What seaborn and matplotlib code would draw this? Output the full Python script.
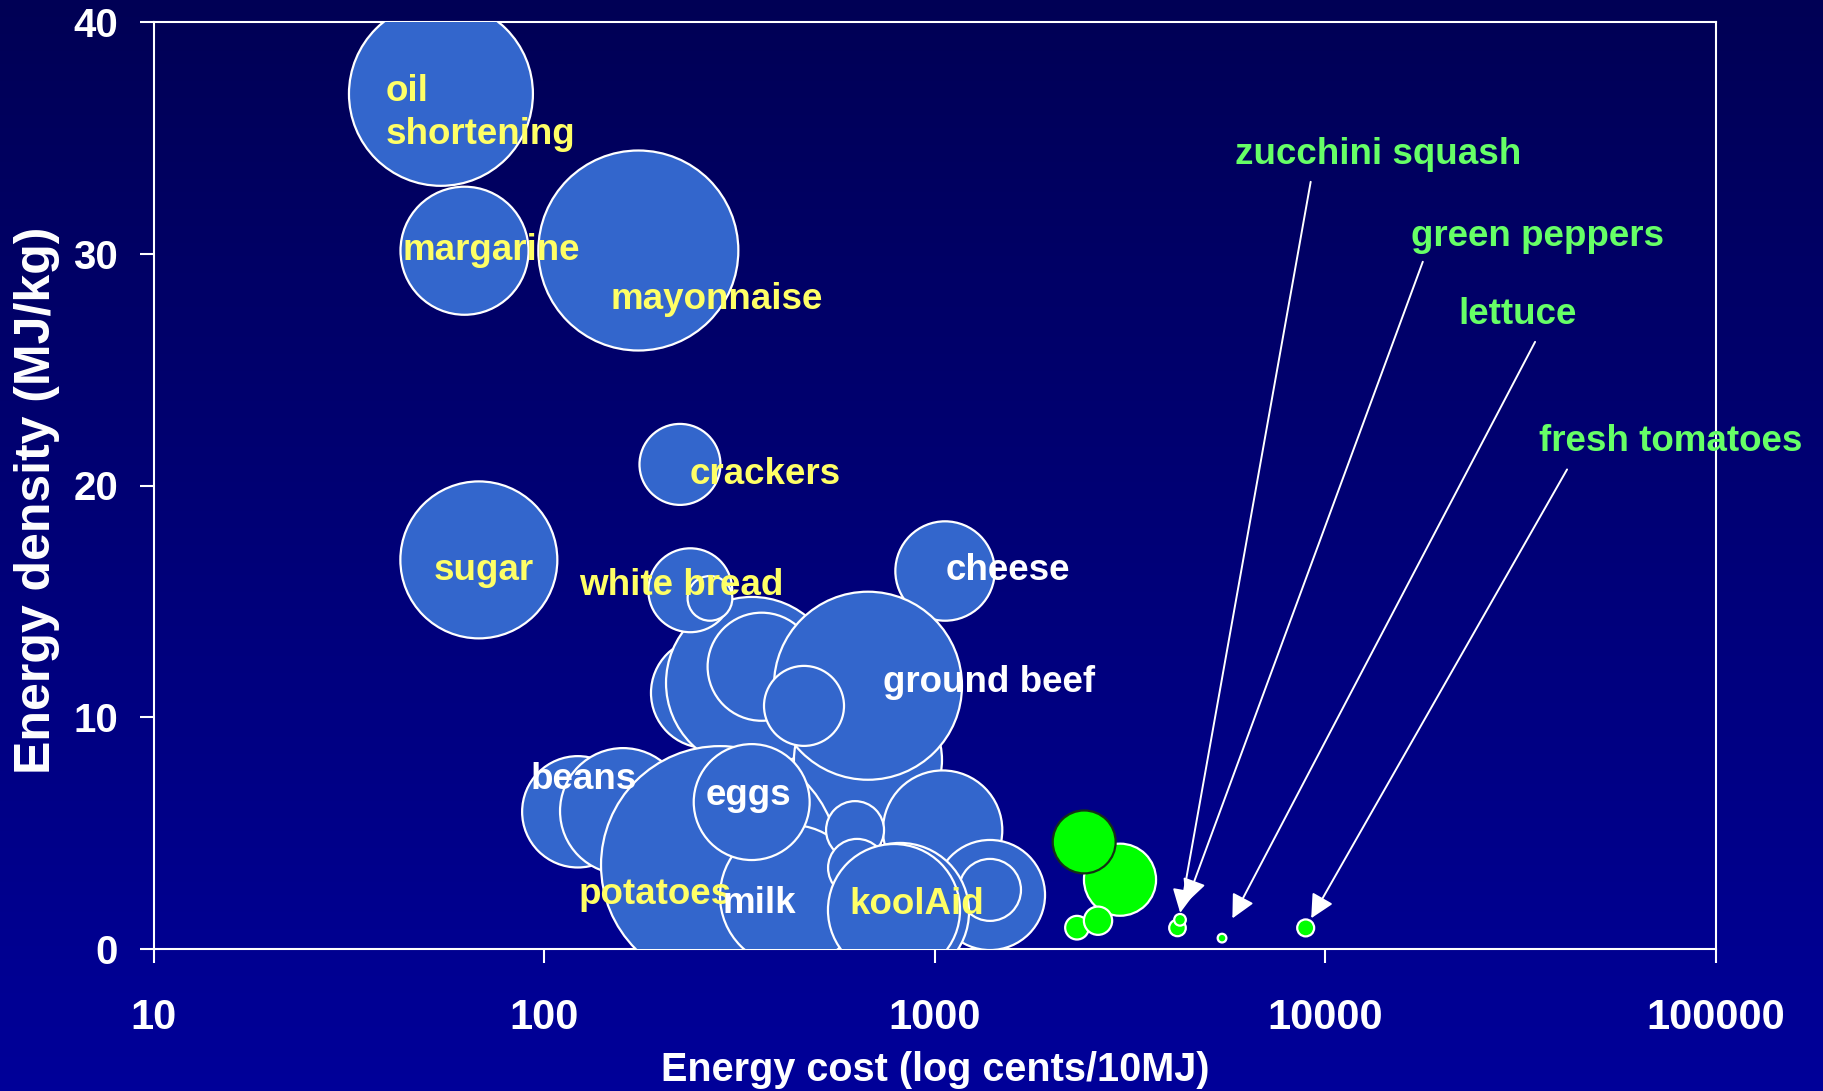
import numpy as np
import pandas as pd
import matplotlib
matplotlib.use("Agg")
import matplotlib.pyplot as plt
import seaborn as sns
from matplotlib.colors import LinearSegmentedColormap
from matplotlib.ticker import NullLocator

# --- data ---
foods = ["oil shortening", "margarine", "mayonnaise", "crackers", "sugar", "cheese",
         "beans", "beans 2", "food a", "food b", "food c", "food d", "food e", "food f",
         "food g", "potatoes", "ground beef", "food h", "white bread", "food i", "milk",
         "eggs", "food j", "food k", "food l", "koolAid",
         "veg a", "veg b", "veg c", "zucchini squash", "green peppers", "lettuce",
         "fresh tomatoes", "veg d"]
cost = [54.3, 62.4, 173.9, 222.3, 67.9, 1061,
        121.7, 158.9, 259.2, 340, 359.8, 673.5, 1046, 1383,
        1383, 281.5, 673.5, 461.9, 236.2, 265.3, 427.8,
        339.3, 624.1, 631.5, 813.6, 785.2,
        2977, 2310, 2615, 4178, 4241, 5433,
        8897, 2410]
density = [36.9, 30.13, 30.14, 20.91, 16.79, 16.31,
           5.92, 5.95, 11.05, 11.48, 12.18, 8.16, 5.13, 2.33,
           2.55, 3.62, 11.36, 10.49, 15.48, 15.13, 2.29,
           6.34, 5.13, 3.5, 1.6, 1.68,
           2.99, 0.92, 1.22, 0.91, 1.26, 0.47,
           0.91, 4.62]
bubble = [84.6, 41.0, 100.0, 16.4, 61.6, 24.7,
          31.0, 39.7, 30.3, 74.0, 29.2, 54.8, 35.6, 30.3,
          9.6, 141.6, 88.4, 16.0, 17.6, 5.0, 50.4,
          33.6, 8.4, 8.4, 47.6, 43.6,
          13.0, 1.4, 2.0, 0.69, 0.34, 0.19,
          0.72, 9.9]
group = ["food"] * 26 + ["veg"] * 8

xticks = [10, 100, 1000, 10000, 100000]
xtick_labels = ["10", "100", "1000", "10000", "100000"]
yticks = [0, 10, 20, 30, 40]

df = pd.DataFrame({"food": foods, "cost": cost, "density": density,
                   "bubble": bubble, "group": group})

# label layout: text, colour, offset (points) from the bubble centre, alignment
YEL, WHT, GRN = "#FFFF66", "white", "#66FF66"
food_labels = {
    "oil shortening": ("oil\nshortening", YEL, -39.6, -13.8, "left"),
    "margarine": ("margarine", YEL, 19.0, 0.3, "center"),
    "mayonnaise": ("mayonnaise", YEL, 56.7, -35.2, "center"),
    "crackers": ("crackers", YEL, 61.6, -7.0, "center"),
    "sugar": ("sugar", YEL, 3.7, -7.5, "center"),
    "white bread": ("white bread", YEL, -6.8, 3.3, "center"),
    "cheese": ("cheese", WHT, 45.4, 0.2, "center"),
    "ground beef": ("ground beef", WHT, 87.1, 2.4, "center"),
    "beans": ("beans", WHT, 4.0, 23.5, "center"),
    "eggs": ("eggs", WHT, -2.2, 4.6, "center"),
    "potatoes": ("potatoes", YEL, -46.8, -20.9, "center"),
    "milk": ("milk", WHT, -22.8, -5.8, "center"),
    "koolAid": ("koolAid", YEL, 16.6, 4.3, "center"),
}
# green labels: text offset, arrow start offset, arrow end gap (points)
veg_labels = {
    "zucchini squash": ((144.4, 556.8), (95.9, 537.2), 11),
    "green peppers": ((257.5, 492.2), (174.8, 473.8), 13),
    "lettuce": ((213.1, 448.9), (225.4, 429.3), 16),
    "fresh tomatoes": ((262.7, 350.4), (188.2, 330.1), 8),
}

plt.rcParams['font.family'] = ['Liberation Sans', 'DejaVu Sans']
plt.rcParams['font.weight'] = 'bold'

fig = plt.figure(figsize=(18.24, 10.91), dpi=100)

# background gradient
bg = fig.add_axes([0, 0, 1, 1], zorder=-10)
cmap = LinearSegmentedColormap.from_list("bg", ["#000055", "#000099"])
bg.imshow(np.linspace(0, 1, 256).reshape(-1, 1), cmap=cmap, aspect="auto",
          extent=[0, 1, 0, 1])
bg.axis("off")

ax = fig.add_axes([154 / 1824, 1 - 949 / 1091, 1562 / 1824, 927 / 1091])
ax.set_facecolor("none")

edges = ["white"] * len(df)
edges[-1] = "#143214"
vmax = max(bubble)
sns.scatterplot(data=df, x="cost", y="density", hue="group", size="bubble",
                palette={"food": "#3366CC", "veg": "#00FF00"},
                sizes=(0, 207.36 * vmax), size_norm=(0, vmax),
                edgecolor=edges, linewidth=1.6, alpha=1, legend=False,
                zorder=3, ax=ax)

ax.set_xscale("log")
ax.set_xlim(10, 100000)
ax.set_ylim(0, 40)
ax.set_xticks(xticks)
ax.set_xticklabels(xtick_labels)
ax.xaxis.set_minor_locator(NullLocator())
ax.set_yticks(yticks)

for sp in ax.spines.values():
    sp.set_color("white")
    sp.set_linewidth(1.5)
ax.tick_params(axis="both", colors="white", direction="out", length=10, width=1.5)
ax.tick_params(axis="x", labelsize=30, pad=25)
ax.tick_params(axis="y", labelsize=29, pad=16)
for lab in ax.get_xticklabels() + ax.get_yticklabels():
    lab.set_fontweight("bold")

ax.set_xlabel("Energy cost (log cents/10MJ)", fontsize=28.5, fontweight="bold",
              color="white", va="center")
ax.xaxis.set_label_coords(0.5, -0.1305)
ax.set_ylabel("Energy density (MJ/kg)", fontsize=36, fontweight="bold",
              color="white", va="center")
ax.yaxis.set_label_coords(-0.0749, 0.4844)

# food labels
for _, row in df.iterrows():
    if row["food"] in food_labels:
        txt, col, dx, dy, ha = food_labels[row["food"]]
        ax.annotate(txt, (row["cost"], row["density"]), xytext=(dx, dy),
                    textcoords="offset points", ha=ha, va="center", color=col,
                    fontsize=26.5, fontweight="bold", linespacing=1.3, zorder=5)
    if row["food"] in veg_labels:
        (tx, ty), (ax0, ay0), gap = veg_labels[row["food"]]
        ax.annotate(row["food"], (row["cost"], row["density"]), xytext=(tx, ty),
                    textcoords="offset points", ha="center", va="center",
                    color=GRN, fontsize=26.5, fontweight="bold", zorder=5,
                    annotation_clip=False)
        ax.annotate("", (row["cost"], row["density"]), xytext=(ax0, ay0),
                    textcoords="offset points", zorder=5,
                    arrowprops=dict(arrowstyle="-|>", color="white", lw=1.4,
                                    mutation_scale=36, shrinkA=0, shrinkB=gap))

plt.savefig("out.png", dpi=100)
